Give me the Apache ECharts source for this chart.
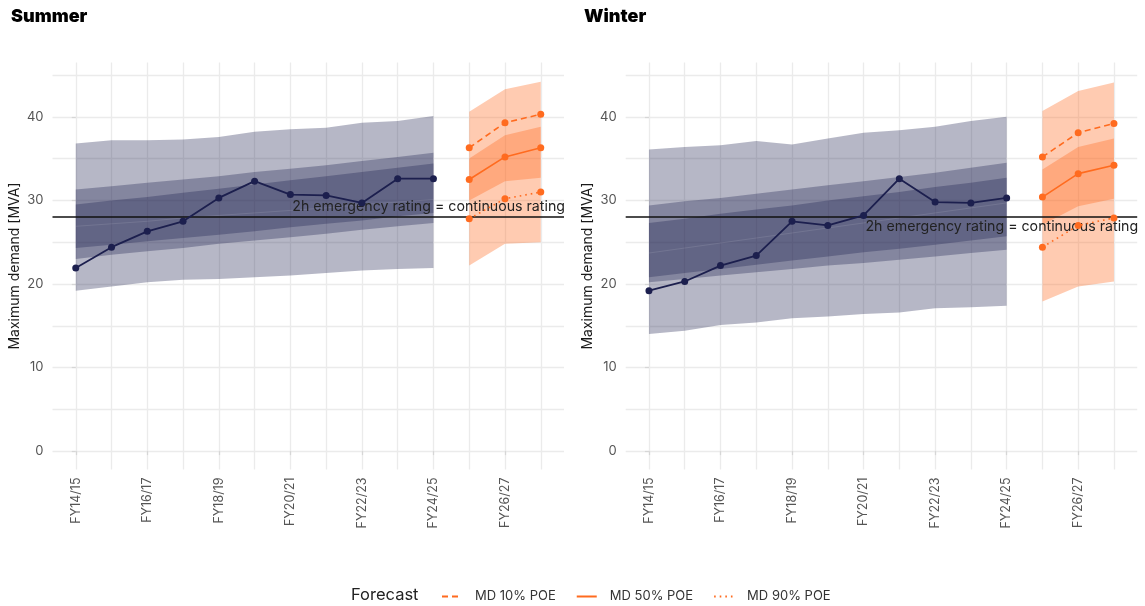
<!DOCTYPE html>
<html>
<head>
<meta charset="utf-8">
<script src="https://cdn.jsdelivr.net/npm/echarts@6/dist/echarts.min.js"></script>
<style>
  html, body { margin: 0; padding: 0; background: #ffffff; }
  #chart { width: 1145px; height: 606px; }
</style>
</head>
<body>
<div id="chart"></div>
<script>
// Financial years along the x axis (positioned by index)
const yearLabels = ['FY14/15','FY15/16','FY16/17','FY17/18','FY18/19','FY19/20','FY20/21',
                    'FY21/22','FY22/23','FY23/24','FY24/25','FY25/26','FY26/27','FY27/28'];
const histIdx = [0,1,2,3,4,5,6,7,8,9,10];
const fcIdx = [11,12,13];
const xLabelTicks = [0,2,4,6,8,10,12];
const yLabelTicks = [0,10,20,30,40];
const yGridValues = [0,5,10,15,20,25,30,35,40,45];

const ratingValue = 28;
const ratingText = '2h emergency rating = continuous rating';

// Summer: recorded maximum demand and its historical spread bands
const sumActual   = [21.9,24.4,26.3,27.5,30.3,32.3,30.7,30.6,29.7,32.6,32.6];
const sumOuterLo  = [19.2,19.7,20.2,20.5,20.6,20.8,21.0,21.3,21.6,21.8,21.9];
const sumOuterHi  = [36.8,37.2,37.2,37.3,37.6,38.2,38.5,38.7,39.3,39.5,40.1];
const sumMidLo    = [23.0,23.5,23.9,24.3,24.8,25.2,25.6,26.0,26.5,26.9,27.3];
const sumMidHi    = [31.3,31.7,32.1,32.5,32.9,33.4,33.8,34.2,34.7,35.2,35.7];
const sumInnerLo  = [24.3,24.7,25.1,25.5,25.9,26.3,26.8,27.2,27.6,28.1,28.5];
const sumInnerHi  = [29.5,30.0,30.4,30.9,31.4,31.9,32.4,32.9,33.4,33.9,34.4];
const sumTrend    = [26.9,27.2,27.5,27.9,28.2,28.5,28.8,29.1,29.5,29.8,30.1];
// Summer forecast
const sumP10      = [36.3,39.3,40.3];
const sumP50      = [32.5,35.2,36.3];
const sumP90      = [27.8,30.2,31.0];
const sumFcOutLo  = [22.2,24.8,25.0];
const sumFcOutHi  = [40.6,43.3,44.2];
const sumFcInLo   = [30.0,32.3,32.7];
const sumFcInHi   = [35.0,37.8,38.8];

// Winter: recorded maximum demand and its historical spread bands
const winActual   = [19.2,20.3,22.2,23.4,27.5,27.0,28.2,32.6,29.8,29.7,30.3];
const winOuterLo  = [14.0,14.4,15.1,15.4,15.9,16.1,16.4,16.6,17.1,17.2,17.4];
const winOuterHi  = [36.1,36.4,36.6,37.1,36.7,37.4,38.1,38.4,38.8,39.5,40.0];
const winMidLo    = [20.2,20.6,21.0,21.4,21.8,22.2,22.5,22.9,23.3,23.7,24.1];
const winMidHi    = [29.4,29.9,30.3,30.8,31.3,31.8,32.3,32.8,33.3,33.9,34.5];
const winInnerLo  = [20.8,21.3,21.8,22.3,22.8,23.3,23.8,24.2,24.7,25.2,25.7];
const winInnerHi  = [27.3,27.8,28.4,28.9,29.4,30.0,30.5,31.0,31.6,32.1,32.7];
const winTrend    = [23.7,24.3,24.9,25.5,26.1,26.7,27.3,27.9,28.5,29.1,29.7];
// Winter forecast
const winP10      = [35.2,38.1,39.2];
const winP50      = [30.4,33.2,34.2];
const winP90      = [24.4,27.0,27.9];
const winFcOutLo  = [17.9,19.7,20.3];
const winFcOutHi  = [40.7,43.1,44.1];
const winFcInLo   = [27.1,29.3,30.2];
const winFcInHi   = [33.7,36.4,37.4];

const FONT = 'Inter, Lato, sans-serif';
const NAVY = '#1c1f4e';
const ORANGE = '#ff6b1f';
const GRID_COLOR = '#ebebeb';

const chart = echarts.init(document.getElementById('chart'), null, { renderer: 'canvas' });

function pairs(xs, ys) { return xs.map((x, i) => [x, ys[i]]); }

// Filled band between a lower and an upper series, drawn as one polygon
function band(xs, lo, hi, color, opacity, gi, z) {
  const rows = xs.map((x, i) => [x, lo[i], hi[i]]);
  return {
    type: 'custom', xAxisIndex: gi, yAxisIndex: gi, z: z, silent: true,
    data: rows,
    encode: { x: 0, y: [1, 2] },
    renderItem: function (params, api) {
      if (params.dataIndex !== 0) return null;
      const top = rows.map(r => api.coord([r[0], r[2]]));
      const bot = rows.map(r => api.coord([r[0], r[1]])).reverse();
      return { type: 'polygon', shape: { points: top.concat(bot) }, style: { fill: color, opacity: opacity } };
    }
  };
}

// Panel background grid: every 5 MVA and every financial year
function gridLines(gi) {
  return {
    type: 'line', xAxisIndex: gi, yAxisIndex: gi, data: [], z: 0, zlevel: 0, silent: true,
    markLine: {
      silent: true, symbol: 'none', animation: false, z: 0,
      label: { show: false },
      lineStyle: { color: GRID_COLOR, width: 1.3, type: 'solid' },
      emphasis: { disabled: true },
      data: yGridValues.map(v => ({ yAxis: v })).concat(yearLabels.map((_, i) => ({ xAxis: i })))
    }
  };
}

function ratingLine(gi, pos) {
  return {
    type: 'line', xAxisIndex: gi, yAxisIndex: gi, data: [], z: 6, silent: true,
    markLine: {
      silent: true, symbol: 'none', animation: false, z: 6,
      lineStyle: { color: '#111111', width: 1.6, type: 'solid' },
      emphasis: { disabled: true },
      label: { show: true, position: pos, formatter: ratingText, color: '#222222',
               fontSize: 14.2, fontFamily: FONT, distance: [-1, 3] },
      data: [{ yAxis: ratingValue }]
    }
  };
}

function fcLine(name, gi, ys, dash) {
  return {
    name: name, type: 'line', xAxisIndex: gi, yAxisIndex: gi, z: 10,
    data: pairs(fcIdx, ys),
    symbol: 'circle', symbolSize: 7, showSymbol: true,
    lineStyle: { color: ORANGE, width: 1.6, type: dash },
    itemStyle: { color: ORANGE },
    animation: false
  };
}

function panelSeries(gi, d) {
  return [
    gridLines(gi),
    band(histIdx, d.outerLo, d.outerHi, NAVY, 0.32, gi, 2),
    band(histIdx, d.midLo, d.midHi, NAVY, 0.32, gi, 2),
    band(histIdx, d.innerLo, d.innerHi, NAVY, 0.32, gi, 2),
    {
      type: 'line', xAxisIndex: gi, yAxisIndex: gi, z: 3, silent: true,
      data: pairs(histIdx, d.trend), showSymbol: false,
      lineStyle: { color: 'rgba(255,255,255,0.10)', width: 1 }, animation: false
    },
    band(fcIdx, d.fcOutLo, d.fcOutHi, ORANGE, 0.35, gi, 2),
    band(fcIdx, d.fcInLo, d.fcInHi, ORANGE, 0.35, gi, 2),
    ratingLine(gi, d.labelPos),
    {
      type: 'line', xAxisIndex: gi, yAxisIndex: gi, z: 10,
      data: pairs(histIdx, d.actual),
      symbol: 'circle', symbolSize: 7,
      lineStyle: { color: NAVY, width: 1.8 }, itemStyle: { color: NAVY },
      animation: false
    },
    fcLine('MD 10% POE', gi, d.p10, [6, 4]),
    fcLine('MD 50% POE', gi, d.p50, 'solid'),
    fcLine('MD 90% POE', gi, d.p90, [1.6, 4])
  ];
}

const summer = {
  actual: sumActual, outerLo: sumOuterLo, outerHi: sumOuterHi, midLo: sumMidLo, midHi: sumMidHi,
  innerLo: sumInnerLo, innerHi: sumInnerHi, trend: sumTrend,
  p10: sumP10, p50: sumP50, p90: sumP90,
  fcOutLo: sumFcOutLo, fcOutHi: sumFcOutHi, fcInLo: sumFcInLo, fcInHi: sumFcInHi,
  labelPos: 'insideEndTop'
};
const winter = {
  actual: winActual, outerLo: winOuterLo, outerHi: winOuterHi, midLo: winMidLo, midHi: winMidHi,
  innerLo: winInnerLo, innerHi: winInnerHi, trend: winTrend,
  p10: winP10, p50: winP50, p90: winP90,
  fcOutLo: winFcOutLo, fcOutHi: winFcOutHi, fcInLo: winFcInLo, fcInHi: winFcInHi,
  labelPos: 'insideEndBottom'
};

function xAxis(gi) {
  return {
    type: 'value', gridIndex: gi, min: -0.65, max: 13.65,
    axisLine: { show: false },
    splitLine: { show: false },
    axisTick: { show: true, customValues: xLabelTicks, length: 4, lineStyle: { color: '#d6d6d6', width: 1.2 } },
    axisLabel: {
      customValues: xLabelTicks, rotate: 90, margin: 8,
      color: '#555555', fontSize: 12.5, fontFamily: FONT,
      formatter: v => yearLabels[Math.round(v)]
    }
  };
}
function yAxis(gi) {
  return {
    type: 'value', gridIndex: gi, min: -2.2, max: 46.5,
    axisLine: { show: false },
    splitLine: { show: false },
    axisTick: { show: true, customValues: yLabelTicks, length: 4, lineStyle: { color: '#d6d6d6', width: 1.2 } },
    axisLabel: { customValues: yLabelTicks, margin: 9, color: '#555555', fontSize: 13, fontFamily: FONT },
    name: 'Maximum demand [MVA]', nameLocation: 'middle', nameGap: 31,
    nameTextStyle: { color: '#1a1a1a', fontSize: 14, fontFamily: FONT }
  };
}

const option = {
  backgroundColor: '#ffffff',
  animation: false,
  title: [
    { text: 'Summer', left: 6, top: 3, textStyle: { fontFamily: FONT, fontSize: 18, fontWeight: 900, color: '#000000' } },
    { text: 'Winter', left: 579, top: 3, textStyle: { fontFamily: FONT, fontSize: 18, fontWeight: 900, color: '#000000' } },
    { text: 'Forecast', left: 346, top: 582, textStyle: { fontFamily: FONT, fontSize: 16.5, fontWeight: 400, color: '#222222' } }
  ],
  legend: {
    data: ['MD 10% POE', 'MD 50% POE', 'MD 90% POE'],
    left: 436, top: 585,
    itemWidth: 20, itemHeight: 12, itemGap: 20,
    itemStyle: { opacity: 0 },
    textStyle: { fontFamily: FONT, fontSize: 13, color: '#333333', padding: [0, 0, 0, 8] },
    selectedMode: false
  },
  grid: [
    { left: 52.5, top: 62.5, width: 511.5, height: 407 },
    { left: 625.7, top: 62.5, width: 511.5, height: 407 }
  ],
  xAxis: [xAxis(0), xAxis(1)],
  yAxis: [yAxis(0), yAxis(1)],
  series: panelSeries(0, summer).concat(panelSeries(1, winter))
};

chart.setOption(option);
</script>
</body>
</html>
